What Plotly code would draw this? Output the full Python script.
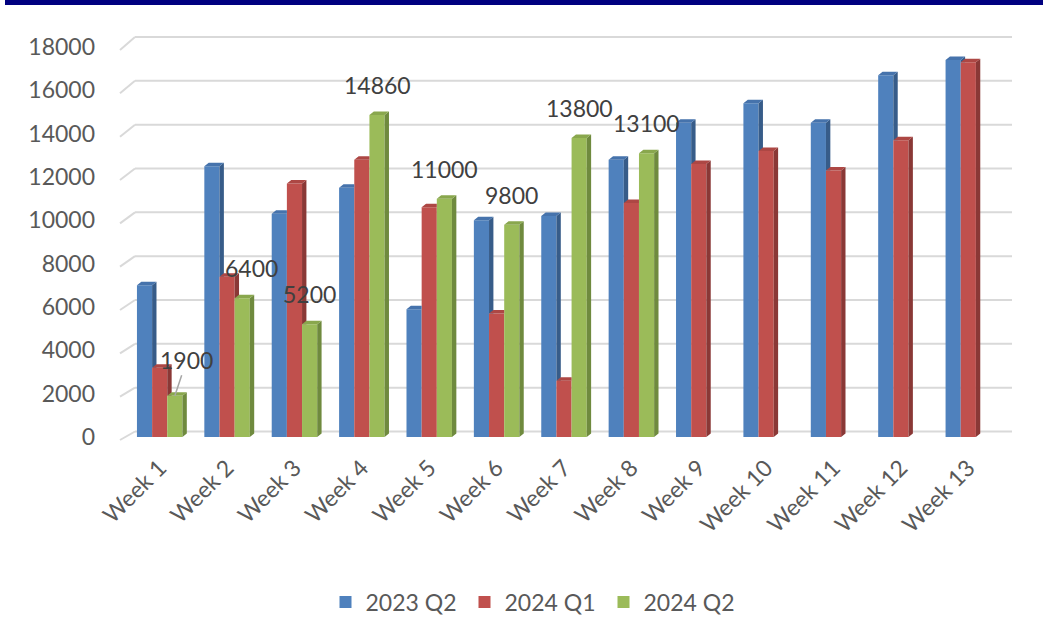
import plotly.graph_objects as go

# ---- data ----
weeks = ["Week 1", "Week 2", "Week 3", "Week 4", "Week 5", "Week 6", "Week 7",
         "Week 8", "Week 9", "Week 10", "Week 11", "Week 12", "Week 13"]
q2_2023 = [7000, 12500, 10300, 11500, 5900, 10000, 10200, 12800, 14500, 15400, 14500, 16700, 17400]
q1_2024 = [3200, 7400, 11700, 12800, 10600, 5700, 2600, 10800, 12600, 13200, 12300, 13700, 17300]
q2_2024 = [1900, 6400, 5200, 14860, 11000, 9800, 13800, 13100, None, None, None, None, None]
series_names = ["2023 Q2", "2024 Q1", "2024 Q2"]
y_ticks = [0, 2000, 4000, 6000, 8000, 10000, 12000, 14000, 16000, 18000]
y_tick_labels = ["0", "2000", "4000", "6000", "8000", "10000", "12000", "14000", "16000", "18000"]

# ---- style ----
FRONT = ["#4F81BD", "#C0504D", "#9BBB59"]
SIDE = ["#375C89", "#8A3836", "#6F8A3E"]
TOP = ["#4673AC", "#AD4744", "#89A74D"]
FONT = "Lato, Carlito, 'Open Sans', sans-serif"
TXT = "#595959"
FS = 23

W = 0.225      # bar width (category units)
DX = 0.065     # 3D depth in x
DY = 160       # 3D depth in y (value units)
YMAX = 18000
L, R, T, B = 126, 48, 47, 193
FW, FH = 1050, 630
PW, PH = FW - L - R, FH - T - B


def px_to_paper_x(px):
    return (px - L) / PW


def px_to_paper_y(py):
    return (FH - B - py) / PH


def clip_above(poly, c):
    out = []
    n = len(poly)
    for k in range(n):
        p, q = poly[k], poly[(k + 1) % n]
        pin, qin = p[1] >= c, q[1] >= c
        if pin:
            out.append(p)
        if pin != qin:
            t = (c - p[1]) / (q[1] - p[1])
            out.append((p[0] + t * (q[0] - p[0]), c))
    return out


all_series = [q2_2023, q1_2024, q2_2024]
offsets = [-1.5 * W, -0.5 * W, 0.5 * W]
xs = list(range(len(weeks)))

fig = go.Figure()

# front faces as real bars
for s, vals in enumerate(all_series):
    fig.add_trace(go.Bar(
        x=xs, y=vals, name=series_names[s], offset=offsets[s], width=W,
        marker=dict(color=FRONT[s], line=dict(width=0)),
        hoverinfo="skip",
    ))

# 3D side and top faces computed from the same values
for s, vals in enumerate(all_series):
    nxt = all_series[s + 1] if s + 1 < len(all_series) else None
    sx, sy, tx, ty = [], [], [], []
    for i, v in enumerate(vals):
        if v is None:
            continue
        x0 = i + offsets[s]
        x1 = x0 + W
        vn = nxt[i] if (nxt is not None and nxt[i] is not None) else 0
        side = [(x1, 0), (x1 + DX, DY), (x1 + DX, v + DY), (x1, v)]
        side = clip_above(side, vn) if vn > 0 else side
        if len(side) >= 3:
            for p in side:
                sx.append(p[0]); sy.append(p[1])
            sx.append(None); sy.append(None)
        capl = [(x0, v), (x1, v), (x1, v + DY), (x0 + DX, v + DY)]
        capr = [(x1, v), (x1 + DX, v + DY), (x1, v + DY)]
        capr = clip_above(capr, vn) if vn > 0 else capr
        for poly in (capl, capr):
            if len(poly) >= 3:
                for p in poly:
                    tx.append(p[0]); ty.append(p[1])
                tx.append(None); ty.append(None)
    fig.add_trace(go.Scatter(x=sx, y=sy, fill="toself", mode="lines",
                             line=dict(width=0, color=SIDE[s]), fillcolor=SIDE[s],
                             showlegend=False, hoverinfo="skip"))
    fig.add_trace(go.Scatter(x=tx, y=ty, fill="toself", mode="lines",
                             line=dict(width=0, color=TOP[s]), fillcolor=TOP[s],
                             showlegend=False, hoverinfo="skip"))

# back-wall gridlines (perspective offset)
shapes = []
for t in y_ticks:
    front_py = (FH - B) - t / YMAX * PH
    back_py = 431.5 - t * 394.5 / YMAX
    shapes.append(dict(type="line", xref="paper", yref="paper",
                       x0=px_to_paper_x(120), y0=px_to_paper_y(front_py + 3),
                       x1=px_to_paper_x(135), y1=px_to_paper_y(back_py),
                       line=dict(color="#D9D9D9", width=2), layer="below"))
    shapes.append(dict(type="line", xref="paper", yref="paper",
                       x0=px_to_paper_x(135), y0=px_to_paper_y(back_py),
                       x1=px_to_paper_x(1012), y1=px_to_paper_y(back_py),
                       line=dict(color="#D9D9D9", width=2), layer="below"))
# top navy band
shapes.append(dict(type="rect", xref="paper", yref="paper",
                   x0=px_to_paper_x(5), x1=px_to_paper_x(1043),
                   y0=px_to_paper_y(5), y1=px_to_paper_y(0),
                   fillcolor="#000080", line=dict(width=0), layer="above"))

# data labels for 2024 Q2
label_dx = [12, 9, 0, 0, 0, 0, 0, 0]
annotations = []
for i, v in enumerate(q2_2024):
    if v is None:
        continue
    cx = i + offsets[2] + W / 2
    if i == 0:
        annotations.append(dict(x=cx, y=v, xref="x", yref="y", text=str(v),
                                showarrow=True, arrowhead=0, arrowwidth=1.5,
                                arrowcolor="#A6A6A6", ax=12, ay=-36,
                                font=dict(family=FONT, size=FS, color="#404040")))
    else:
        annotations.append(dict(x=cx, y=v, xref="x", yref="y", text=str(v),
                                showarrow=False, yanchor="middle",
                                xshift=label_dx[i] if i < len(label_dx) else 0,
                                yshift=30,
                                font=dict(family=FONT, size=FS, color="#404040")))

fig.update_layout(
    width=FW, height=FH,
    margin=dict(l=L, r=R, t=T, b=B, autoexpand=False),
    paper_bgcolor="white", plot_bgcolor="white",
    barmode="overlay",
    showlegend=True,
    legend=dict(orientation="h", x=px_to_paper_x(534), xanchor="center",
                y=px_to_paper_y(602), yanchor="middle",
                font=dict(family=FONT, size=FS, color=TXT),
                entrywidth=94, entrywidthmode="pixels"),
    shapes=shapes,
    annotations=annotations,
    xaxis=dict(range=[-0.5, 12.5], tickvals=xs, ticktext=weeks, tickangle=-45,
               showgrid=False, zeroline=False, showline=False, ticks="",
               ticklabelstandoff=12, automargin=False,
               tickfont=dict(family=FONT, size=FS, color=TXT)),
    yaxis=dict(range=[0, YMAX], tickvals=y_ticks, ticktext=y_tick_labels,
               showgrid=False, zeroline=False, automargin=False,
               showline=False, ticks="", ticklabelstandoff=30,
               tickfont=dict(family=FONT, size=FS, color=TXT)),
)

fig.write_html("out.html", config={"displayModeBar": False},
               post_script="document.body.style.margin='0';")
